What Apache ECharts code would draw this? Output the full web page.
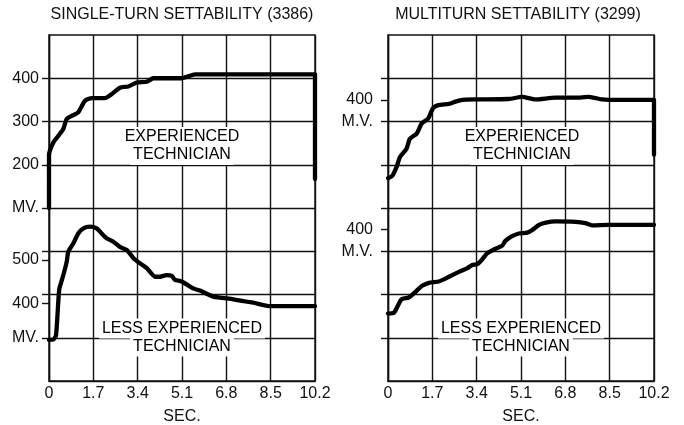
<!DOCTYPE html>
<html><head><meta charset="utf-8">
<script src="https://cdn.jsdelivr.net/npm/echarts@6/dist/echarts.min.js"></script>
<style>html,body{margin:0;padding:0;background:#fff}#c{width:684px;height:425px}</style>
</head><body><div id="c"></div>
<script>
// ---- texts ----
const titles = ['SINGLE-TURN SETTABILITY (3386)', 'MULTITURN SETTABILITY (3299)'];
const xTickLabels = ['0', '1.7', '3.4', '5.1', '6.8', '8.5', '10.2'];
const xName = 'SEC.';
const leftTopTicks = [200, 300, 400];
const leftBottomTicks = [400, 500];
const rightTopTicks = [400];
const rightBottomTicks = [400];
const unitLeft = 'MV.';
const unitRight = 'M.V.';
const labelExp = ['EXPERIENCED', 'TECHNICIAN'];
const labelLess = ['LESS EXPERIENCED', 'TECHNICIAN'];

// ---- data: seconds / millivolts ----
const singleExpSec = [0, 0, 0.17, 0.36, 0.55, 0.68, 0.87, 1.12, 1.38, 1.64, 2.15, 2.40, 2.72, 3.04, 3.36, 3.75, 4.00, 5.09, 5.60, 10.2, 10.2];
const singleExpMv  = [100, 222, 252, 267, 283, 306, 313, 321, 348, 354, 354, 363, 378, 381, 390, 392, 400, 400, 409, 409, 167];

const singleLessSec = [0, 0.17, 0.27, 0.36, 0.40, 0.55, 0.68, 0.74, 0.93, 1.12, 1.32, 1.57, 1.83, 2.02, 2.21, 2.47, 2.72, 2.98, 3.24, 3.49, 3.75, 4.07, 4.26, 4.51, 4.71, 4.83, 5.09, 5.53, 5.79, 6.30, 7.07, 7.83, 8.48, 10.2];
const singleLessMv  = [315, 316, 326, 407, 434, 465, 496, 519, 538, 561, 573, 577, 573, 561, 550, 542, 530, 523, 504, 492, 481, 461, 461, 465, 463, 454, 450, 434, 429, 415, 409, 401, 393, 393];

const multiExpSec = [0, 0.16, 0.33, 0.46, 0.71, 0.84, 1.10, 1.29, 1.54, 1.73, 1.93, 2.34, 2.59, 2.85, 3.36, 4.63, 5.14, 5.65, 6.42, 7.19, 7.70, 8.21, 8.46, 10.2, 10.2];
const multiExpMv  = [219, 224, 245, 268, 287, 310, 322, 345, 357, 381, 388, 391, 396, 400, 401, 402, 407, 401, 405, 405, 407, 401, 400, 400, 273];

const multiLessSec = [0, 0.23, 0.36, 0.52, 0.80, 1.00, 1.31, 1.57, 1.95, 2.14, 2.34, 2.78, 3.04, 3.23, 3.42, 3.61, 3.80, 4.06, 4.38, 4.50, 4.76, 5.02, 5.34, 5.53, 5.79, 6.10, 6.42, 7.19, 7.57, 7.82, 8.46, 10.2];
const multiLessMv  = [206, 208, 222, 239, 243, 253, 270, 277, 280, 285, 291, 304, 311, 318, 320, 331, 345, 354, 363, 374, 385, 391, 393, 399, 411, 417, 419, 418, 415, 410, 411, 411];

// ---- build ----
const FONT = '"Liberation Sans", Arial, Helvetica, sans-serif';
const FS = 16;
const INK = '#111';
const zip = (a, b) => a.map((v, i) => [v, b[i]]);

function xAxisFor(g) {
  return {
    type: 'value', gridIndex: g, min: 0, max: 10.2, interval: 1.7,
    name: xName, nameLocation: 'middle', nameGap: 28,
    nameTextStyle: { fontFamily: FONT, fontSize: FS, color: INK },
    axisLine: { show: true, lineStyle: { color: INK, width: 1.4 } },
    axisTick: { show: false },
    splitLine: { show: true, lineStyle: { color: INK, width: 1.4 } },
    axisLabel: { margin: 5, fontFamily: FONT, fontSize: FS, color: INK,
      formatter: (v) => xTickLabels[Math.round(v / 1.7)] }
  };
}
function frameAxis(g, unitVals, unitText, margin) {
  return {
    type: 'value', gridIndex: g, position: 'left', min: 0, max: 8, interval: 1,
    axisLine: { show: true, lineStyle: { color: INK, width: 1.4 } },
    splitLine: { show: true, lineStyle: { color: INK, width: 1.4 } },
    axisTick: { show: true, length: 7, inside: false, customValues: [1, 2, 3, 4, 5, 6, 7],
      lineStyle: { color: INK, width: 1.4 } },
    axisLabel: { show: true, customValues: unitVals, margin: margin, fontFamily: FONT, fontSize: FS, color: INK,
      formatter: () => unitText }
  };
}
function dataAxis(g, min, max, ticks, showTick, margin) {
  return {
    type: 'value', gridIndex: g, position: 'left', offset: 0, min: min, max: max,
    axisLine: { show: false },
    splitLine: { show: false },
    axisTick: { show: showTick, length: 7, customValues: ticks, lineStyle: { color: INK, width: 1.4 } },
    axisLabel: { show: true, customValues: ticks, margin: margin, fontFamily: FONT, fontSize: FS, color: INK }
  };
}
function lineSeries(xi, yi, sec, mv) {
  return {
    type: 'line', xAxisIndex: xi, yAxisIndex: yi, data: zip(sec, mv),
    showSymbol: false, symbol: 'none', smooth: 0.2, clip: false,
    lineStyle: { color: '#000', width: 4.3, cap: 'round', join: 'round' }, z: 5
  };
}
function annot(x, y, lines) {
  return {
    type: 'text', z: 3, x: x, y: y,
    style: {
      text: lines.map(l => '{a|' + l + '}').join('\n'),
      align: 'center', verticalAlign: 'middle',
      rich: { a: { fontFamily: FONT, fontSize: FS, lineHeight: 18, height: 18, color: INK, backgroundColor: '#fff', padding: [1, 3, 1, 3] } }
    }
  };
}
function titleText(x, t) {
  return { type: 'text', x: x, y: 15, z: 3,
    style: { text: t, align: 'center', verticalAlign: 'middle', fontFamily: FONT, fontSize: FS, fill: INK } };
}

const chart = echarts.init(document.getElementById('c'), null, { renderer: 'canvas' });
chart.setOption({
  animation: false,
  backgroundColor: '#fff',
  grid: [
    { left: 49, top: 35, width: 266, height: 346, outerBoundsMode: 'none', show: true, borderColor: INK, borderWidth: 1.4, backgroundColor: 'transparent' },
    { left: 388, top: 35, width: 266, height: 346, outerBoundsMode: 'none', show: true, borderColor: INK, borderWidth: 1.4, backgroundColor: 'transparent' }
  ],
  xAxis: [xAxisFor(0), xAxisFor(1)],
  yAxis: [
    frameAxis(0, [1, 4], unitLeft, 10),
    dataAxis(0, -300, 500, leftTopTicks, false, 10),
    dataAxis(0, 220, 1020, leftBottomTicks, true, 10),
    frameAxis(1, [3, 6], unitRight, 15),
    dataAxis(1, -250, 550, rightTopTicks, true, 15),
    dataAxis(1, 50, 850, rightBottomTicks, true, 15)
  ],
  series: [
    lineSeries(0, 1, singleExpSec, singleExpMv),
    lineSeries(0, 2, singleLessSec, singleLessMv),
    lineSeries(1, 4, multiExpSec, multiExpMv),
    lineSeries(1, 5, multiLessSec, multiLessMv)
  ],
  graphic: [
    titleText(182, titles[0]),
    titleText(518, titles[1]),
    annot(182, 146, labelExp),
    annot(182, 337.5, labelLess),
    annot(522, 146, labelExp),
    annot(521, 337.5, labelLess)
  ]
});
</script>
</body></html>
